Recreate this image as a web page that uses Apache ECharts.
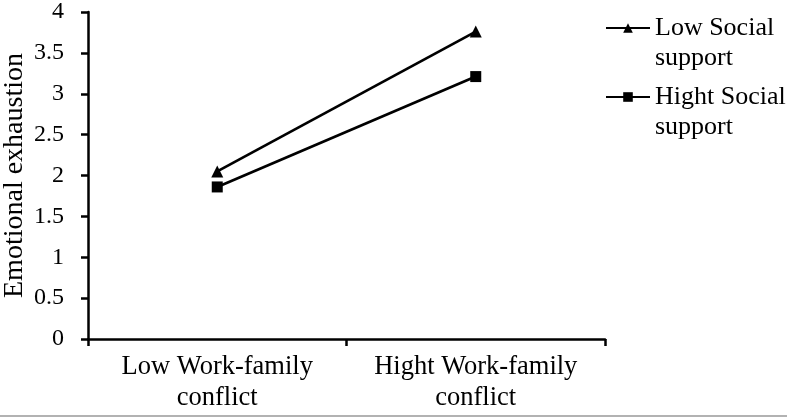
<!DOCTYPE html>
<html lang="en">
<head>
    <meta charset="UTF-8">
    <title>Emotional exhaustion</title>
    <style>
        html,body{margin:0;padding:0;background:#fff;}
        #mychart{
            width: 787px;
            height: 420px;
        }
    </style>
</head>
<body>
    <div id="mychart"></div>
    <script src="https://cdn.jsdelivr.net/npm/echarts@6/dist/echarts.min.js"></script>
    <script>
        var categories=['Low Work-family\nconflict','Hight Work-family\nconflict']
        var lowSupport=[2.05,3.76]//Low Social support
        var highSupport=[1.86,3.21]//Hight Social support
        var seriesNames=['Low Social\nsupport','Hight Social\nsupport']
        var font='"Liberation Serif", "Times New Roman", serif'

        var myChart=echarts.init(document.getElementById('mychart'))
        var option={
            animation:false,
            textStyle:{fontFamily:font,color:'#000'},
            grid:{left:88,right:182,top:12,bottom:81,containLabel:false,outerBoundsMode:'none'},
            legend:{
                orient:'vertical',
                left:600,
                top:-22,
                itemWidth:44,
                itemHeight:12,
                itemGap:-21,
                formatter:function(name){return '\n'+name},//空行让图标对齐第一行
                textStyle:{fontFamily:font,fontSize:26,color:'#000',lineHeight:30},
                data:seriesNames
            },
            xAxis:{
                type:'category',
                data:categories,
                boundaryGap:true,
                axisLine:{lineStyle:{color:'#000',width:2.5}},
                axisTick:{show:true,length:7,lineStyle:{color:'#000',width:2.5}},
                axisLabel:{fontFamily:font,fontSize:26.5,color:'#000',lineHeight:31,margin:13,interval:0,hideOverlap:false}
            },
            yAxis:{
                type:'value',
                min:0,
                max:4,
                interval:0.5,
                name:'Emotional exhaustion',
                nameLocation:'middle',
                nameGap:59,
                nameMoveOverlap:false,
                nameTextStyle:{fontFamily:font,fontSize:28,color:'#000'},
                splitLine:{show:false},
                axisLine:{show:true,lineStyle:{color:'#000',width:2.5}},
                axisTick:{show:true,length:7,lineStyle:{color:'#000',width:2.5}},
                axisLabel:{fontFamily:font,fontSize:24,color:'#000',margin:24}
            },
            series:[
                {
                    name:seriesNames[0],
                    type:'line',
                    data:lowSupport,
                    symbol:'triangle',
                    symbolSize:12,
                    lineStyle:{color:'#000',width:2.7},
                    itemStyle:{color:'#000'}
                },
                {
                    name:seriesNames[1],
                    type:'line',
                    data:highSupport,
                    symbol:'rect',
                    symbolSize:11,
                    lineStyle:{color:'#000',width:2.7},
                    itemStyle:{color:'#000'}
                }
            ],
            graphic:[
                {
                    type:'line',
                    shape:{x1:0,y1:416,x2:787,y2:416},
                    style:{stroke:'#999',lineWidth:1.5}
                }
            ]
        }
        myChart.setOption(option)
    </script>
</body>
</html>
